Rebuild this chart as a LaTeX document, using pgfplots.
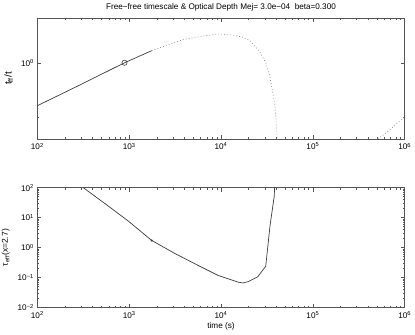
\documentclass[border=0pt]{standalone}
\usepackage{fontspec}
\setmainfont{Liberation Sans}
\usepackage{pgfplots}
\pgfplotsset{compat=1.18}

\definecolor{axgray}{HTML}{555555}
\definecolor{solidline}{HTML}{3C3C3C}
\definecolor{dotline}{HTML}{8C8C8C}

\pgfplotsset{
  matlab/.style={
    scale only axis,
    width=367.4bp,
    xmin=1e2, xmax=1e6,
    axis line style={axgray, line width=0.6pt},
    every tick/.style={axgray, line width=0.5pt},
    major tick length=4bp, minor tick length=2bp,
    tick align=inside,
    font=\fontsize{8.2}{9.5}\selectfont,
    xtick={1e2,1e3,1e4,1e5,1e6},
    xticklabels={10\textsuperscript{2},10\textsuperscript{3},10\textsuperscript{4},10\textsuperscript{5},10\textsuperscript{6}},
    xticklabel style={yshift=-0.5bp},
    clip=true,
  }
}

\begin{document}
\begin{tikzpicture}
\path[use as bounding box] (0,0) rectangle (415bp,335bp);

% top panel: t_ff / t
\begin{loglogaxis}[matlab,
  at={(37.3bp,196bp)}, anchor=south west,
  height=121bp,
  ymin=0.381, ymax=1.78,
  ytick={1}, yticklabels={10\textsuperscript{0}},
  minor ytick={0.5},
  ylabel={t\textsubscript{ff}/t},
  every axis y label/.style={at={(axis description cs:-0.056,0.5)}, rotate=90, anchor=south,
    font=\fontsize{10}{11}\selectfont},
  title={Free−free timescale \& Optical Depth Mej= 3.0e−04\ \ beta=0.300},
  title style={yshift=-3bp},
]
\addplot[solidline, line width=0.7pt] coordinates {
  (100,0.582) (298,0.763) (890,1.006) (1761,1.174)
};
\addplot[dotline, line width=0.7pt, dash pattern=on 0.8bp off 2.2bp] coordinates {
  (1761,1.174) (3888,1.353) (5902,1.406) (9270,1.452) (13520,1.433)
  (17380,1.392) (20720,1.332) (26600,1.152) (30900,1.0) (34200,0.835)
  (38740,0.583) (41000,0.381)
};
\addplot[dotline, line width=0.7pt, dash pattern=on 0.8bp off 2.2bp] coordinates {
  (511000,0.381) (692000,0.428) (1000000,0.506)
};
\addplot[solidline, only marks, mark=o, mark size=2.6bp, mark options={line width=0.6pt}] coordinates {
  (890,1.006)
};
\end{loglogaxis}

% bottom panel: tau_eff
\begin{loglogaxis}[matlab,
  at={(37.3bp,27.5bp)}, anchor=south west,
  height=119.8bp,
  ymin=1e-2, ymax=1e2,
  ytick={1e-2,1e-1,1,1e1,1e2},
  yticklabels={10\textsuperscript{−2},10\textsuperscript{−1},10\textsuperscript{0},10\textsuperscript{1},10\textsuperscript{2}},
  ylabel={τ\textsubscript{eff}(x=2.7)},
  every axis y label/.style={at={(axis description cs:-0.066,0.5)}, rotate=90, anchor=south,
    font=\fontsize{8.5}{10}\selectfont},
  xlabel={time (s)},
  xlabel style={yshift=3bp},
]
\addplot[solidline, line width=0.7pt] coordinates {
  (317,100) (593,24.4) (979,7.69) (1761,1.73) (3155,0.635) (5662,0.252)
  (9350,0.1167) (15420,0.0702) (17400,0.066) (19820,0.0734) (25100,0.1054)
  (30700,0.240) (34140,5.24) (38020,52.7) (38300,100)
};
\addplot[solidline, only marks, mark=*, mark size=0.8bp] coordinates {
  (1761,1.73)
};
\end{loglogaxis}
\end{tikzpicture}
\end{document}
